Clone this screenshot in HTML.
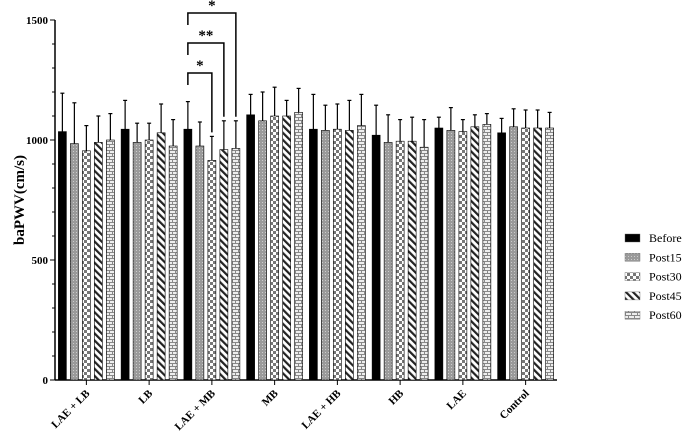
<!DOCTYPE html>
<html><head><meta charset="utf-8"><style>
body{margin:0;background:#fff;}
svg{display:block;font-family:"Liberation Serif",serif;}
</style></head><body>
<svg id="chart" width="685" height="444" viewBox="0 0 685 444">
<defs>
<pattern id="p15" width="3" height="3" patternUnits="userSpaceOnUse"><rect width="3" height="3" fill="#9a9a9a"/><rect x="1" y="1" width="1" height="1" fill="#ccc"/></pattern>
<pattern id="p30" width="6" height="6" patternUnits="userSpaceOnUse"><rect width="6" height="6" fill="#fff"/><rect width="3" height="3" fill="#777"/><rect x="3" y="3" width="3" height="3" fill="#777"/></pattern>
<pattern id="p45" width="5" height="5" patternUnits="userSpaceOnUse" patternTransform="rotate(-45)"><rect width="5" height="5" fill="#fff"/><rect width="2.2" height="5" fill="#222"/></pattern>
<pattern id="p60" width="6" height="6" patternUnits="userSpaceOnUse"><rect width="6" height="6" fill="#eee"/><path d="M0 0.5H6M0 3.5H6M1.5 0.5V3.5M4.5 3.5V6" stroke="#888" stroke-width="1"/></pattern>
</defs>
<g id="axes"></g><g id="bars"></g><g id="sig"></g><g id="legend"></g>
</svg>
<script>
const categories=["LAE + LB","LB","LAE + MB","MB","LAE + HB","HB","LAE","Control"];
const seriesNames=["Before","Post15","Post30","Post45","Post60"];
const before=[1035,1045,1045,1105,1045,1020,1050,1030];
const post15=[985,990,975,1080,1040,990,1040,1055];
const post30=[955,1000,915,1100,1045,995,1035,1050];
const post45=[990,1030,960,1100,1040,995,1055,1050];
const post60=[1000,975,965,1115,1060,970,1065,1050];
const errBefore=[160,120,115,85,145,125,45,60];
const err15=[170,80,100,120,105,115,95,75];
const err30=[105,70,100,120,105,90,50,75];
const err45=[110,120,120,65,125,100,50,75];
const err60=[110,110,115,100,130,115,45,65];
const yTicks=[0,500,1000,1500];
const values=[before,post15,post30,post45,post60];
const errs=[errBefore,err15,err30,err45,err60];
const fills=["#000","url(#p15)","url(#p30)","url(#p45)","url(#p60)"];
const NS="http://www.w3.org/2000/svg";
const x0=55,x1=557,yBase=380,yTop=20,yMax=1500;
const y=v=>yBase-(v/yMax)*(yBase-yTop);
const groupW=(x1-x0)/categories.length;
const gc=i=>x0+groupW*(i+0.5);
const bx=(i,s)=>gc(i)-28+s*12;
function mk(tag,attrs,parent,text){const e=document.createElementNS(NS,tag);for(const k in attrs)e.setAttribute(k,attrs[k]);if(text!==undefined)e.textContent=text;parent.appendChild(e);return e;}
const axes=document.getElementById('axes'),bars=document.getElementById('bars'),sig=document.getElementById('sig'),leg=document.getElementById('legend');
let e=mk('line',{x1:x0,y1:yTop,x2:x0,y2:yBase,stroke:'#000','stroke-width':1.5},axes);


e=mk('line',{x1:x0,y1:yBase,x2:x1,y2:yBase,stroke:'#000','stroke-width':1.5},axes);


for(let v=0;v<=yMax;v+=100){mk('line',{x1:x0-(v%500===0?5:3),y1:y(v),x2:x0,y2:y(v),stroke:'#000','stroke-width':1},axes);}
yTicks.forEach(v=>{const t=mk('text',{x:x0-7,y:y(v)+4,'text-anchor':'end','font-size':11,'font-weight':'bold'},axes,String(v));

});
const yt=mk('text',{x:0,y:0,transform:'translate(24,200) rotate(-90)','text-anchor':'middle','font-size':15,'font-weight':'bold'},axes,'baPWV(cm/s)');


categories.forEach((c,i)=>{
 mk('line',{x1:gc(i),y1:yBase,x2:gc(i),y2:yBase+5,stroke:'#000','stroke-width':1},axes);
 const t=mk('text',{x:0,y:0,transform:`translate(${gc(i)+4},${yBase+14}) rotate(-45)`,'text-anchor':'end','font-size':11,'font-weight':'bold'},axes,c);
 
 
 values.forEach((arr,s)=>{
  const x=bx(i,s),top=y(arr[i]),et=y(arr[i]+errs[s][i]);
  const r=mk('rect',{x:x,y:top,width:8,height:yBase-top,fill:fills[s],stroke:'#000','stroke-width':0.6},bars);
  
  
  mk('line',{x1:x+4,y1:top,x2:x+4,y2:et,stroke:'#000','stroke-width':1.2},bars);
  mk('line',{x1:x+2,y1:et,x2:x+6,y2:et,stroke:'#000','stroke-width':1.2},bars);
 });
});
const sigPairs=[[2,"*",73],[3,"**",43],[4,"*",13]];
sigPairs.forEach(([s,lab,by],k)=>{
 const xa=bx(2,0)+4,xb=bx(2,s)+4;
 const ya=by+12,yb=y(values[s][2]+errs[s][2])-4;
 const p=mk('path',{d:`M${xa} ${ya}V${by}H${xb}V${yb}`,fill:'none',stroke:'#000','stroke-width':1.5},sig);
 
 
 const t=mk('text',{x:(xa+xb)/2,y:by-3,'text-anchor':'middle','font-size':15,'font-weight':'bold'},sig,lab);
 
 
});
seriesNames.forEach((n,s)=>{
 const yy=238+s*19.3;
 const g=mk('g',{},leg);
 
 
 mk('rect',{x:625,y:yy-4,width:15,height:8,fill:fills[s],stroke:'#666','stroke-width':0.4},g);
 mk('text',{x:649,y:yy+4,'font-size':12},g,n);
});
</script>
</body></html>
